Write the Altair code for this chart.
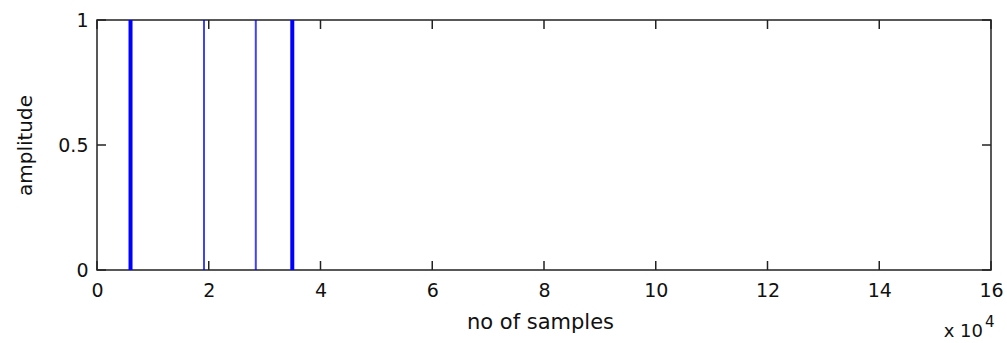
import altair as alt
import pandas as pd

# data
thick_pos = [6000, 34950]
thick_amp = [1, 1]
thin_pos = [19150, 28420]
thin_amp = [1, 1]
x_ticks = [0, 20000, 40000, 60000, 80000, 100000, 120000, 140000, 160000]
y_ticks = [0, 0.5, 1]

W, H = 894, 250
FONT = "DejaVu Sans"

thick_df = pd.DataFrame({"pos": thick_pos, "amp": thick_amp})
thin_df = pd.DataFrame({"pos": thin_pos, "amp": thin_amp})
xt_df = pd.DataFrame({"v": x_ticks})
yt_df = pd.DataFrame({"v": y_ticks})

xscale = alt.Scale(domain=[0, 160000], nice=False, zero=False)
yscale = alt.Scale(domain=[0, 1], nice=False, zero=False)

x_axis = alt.Axis(
    values=x_ticks, labelExpr="toString(datum.value/10000)", ticks=False,
    grid=False, domain=False, labelFont=FONT, labelFontSize=19, labelColor="#111",
    labelPadding=11, title="no of samples", titleFont=FONT, titleFontSize=21,
    titleFontWeight="normal", titleColor="#111", titleX=443, titleY=58,
    titleBaseline="alphabetic", titleAlign="center", labelFlush=False,
)
y_axis = alt.Axis(
    values=y_ticks, labelExpr="toString(datum.value)", ticks=False, grid=False,
    domain=False, labelFont=FONT, labelFontSize=19, labelColor="#111",
    labelPadding=9, title="amplitude", titleFont=FONT, titleFontSize=20,
    titleFontWeight="normal", titleColor="#111", titleX=-72, titleY=125,
    titleAngle=270, titleBaseline="middle", titleAlign="center", labelFlush=False,
)

thick = alt.Chart(thick_df).mark_rule(color="#0000ff", strokeWidth=4).encode(
    x=alt.X("pos:Q", scale=xscale, axis=x_axis),
    y=alt.Y("amp:Q", scale=yscale, axis=y_axis),
    y2=alt.Y2(datum=0),
)
thin = alt.Chart(thin_df).mark_rule(color="#0000ff", strokeWidth=2, opacity=0.75).encode(
    x=alt.X("pos:Q", scale=xscale),
    y=alt.Y("amp:Q", scale=yscale),
    y2=alt.Y2(datum=0),
)

tick_color = "#222"
bt = alt.Chart(xt_df).mark_rule(color=tick_color, strokeWidth=1.5).encode(
    x=alt.X("v:Q", scale=xscale), y=alt.value(H), y2=alt.value(H - 9))
tt = alt.Chart(xt_df).mark_rule(color=tick_color, strokeWidth=1.5).encode(
    x=alt.X("v:Q", scale=xscale), y=alt.value(0), y2=alt.value(9))
lt = alt.Chart(yt_df).mark_rule(color=tick_color, strokeWidth=1.5).encode(
    y=alt.Y("v:Q", scale=yscale), x=alt.value(0), x2=alt.value(9))
rt = alt.Chart(yt_df).mark_rule(color=tick_color, strokeWidth=1.5).encode(
    y=alt.Y("v:Q", scale=yscale), x=alt.value(W), x2=alt.value(W - 9))

exp_base = alt.Chart(pd.DataFrame({"t": ["x 10"]})).mark_text(
    font=FONT, fontSize=18, align="right", baseline="alphabetic", color="#111"
).encode(text="t:N", x=alt.value(886), y=alt.value(317))
exp_sup = alt.Chart(pd.DataFrame({"t": ["4"]})).mark_text(
    font=FONT, fontSize=15, align="left", baseline="alphabetic", color="#111"
).encode(text="t:N", x=alt.value(888), y=alt.value(307))

chart = alt.layer(thick, thin, bt, tt, lt, rt, exp_base, exp_sup).properties(
    width=W, height=H,
    autosize=alt.AutoSizeParams(type="none"),
    padding={"left": 97, "top": 20, "right": 16, "bottom": 73},
    background="white",
).configure_view(stroke="#222", strokeWidth=1.5)

chart.save("out.html", embed_options={"renderer": "svg", "actions": False})
